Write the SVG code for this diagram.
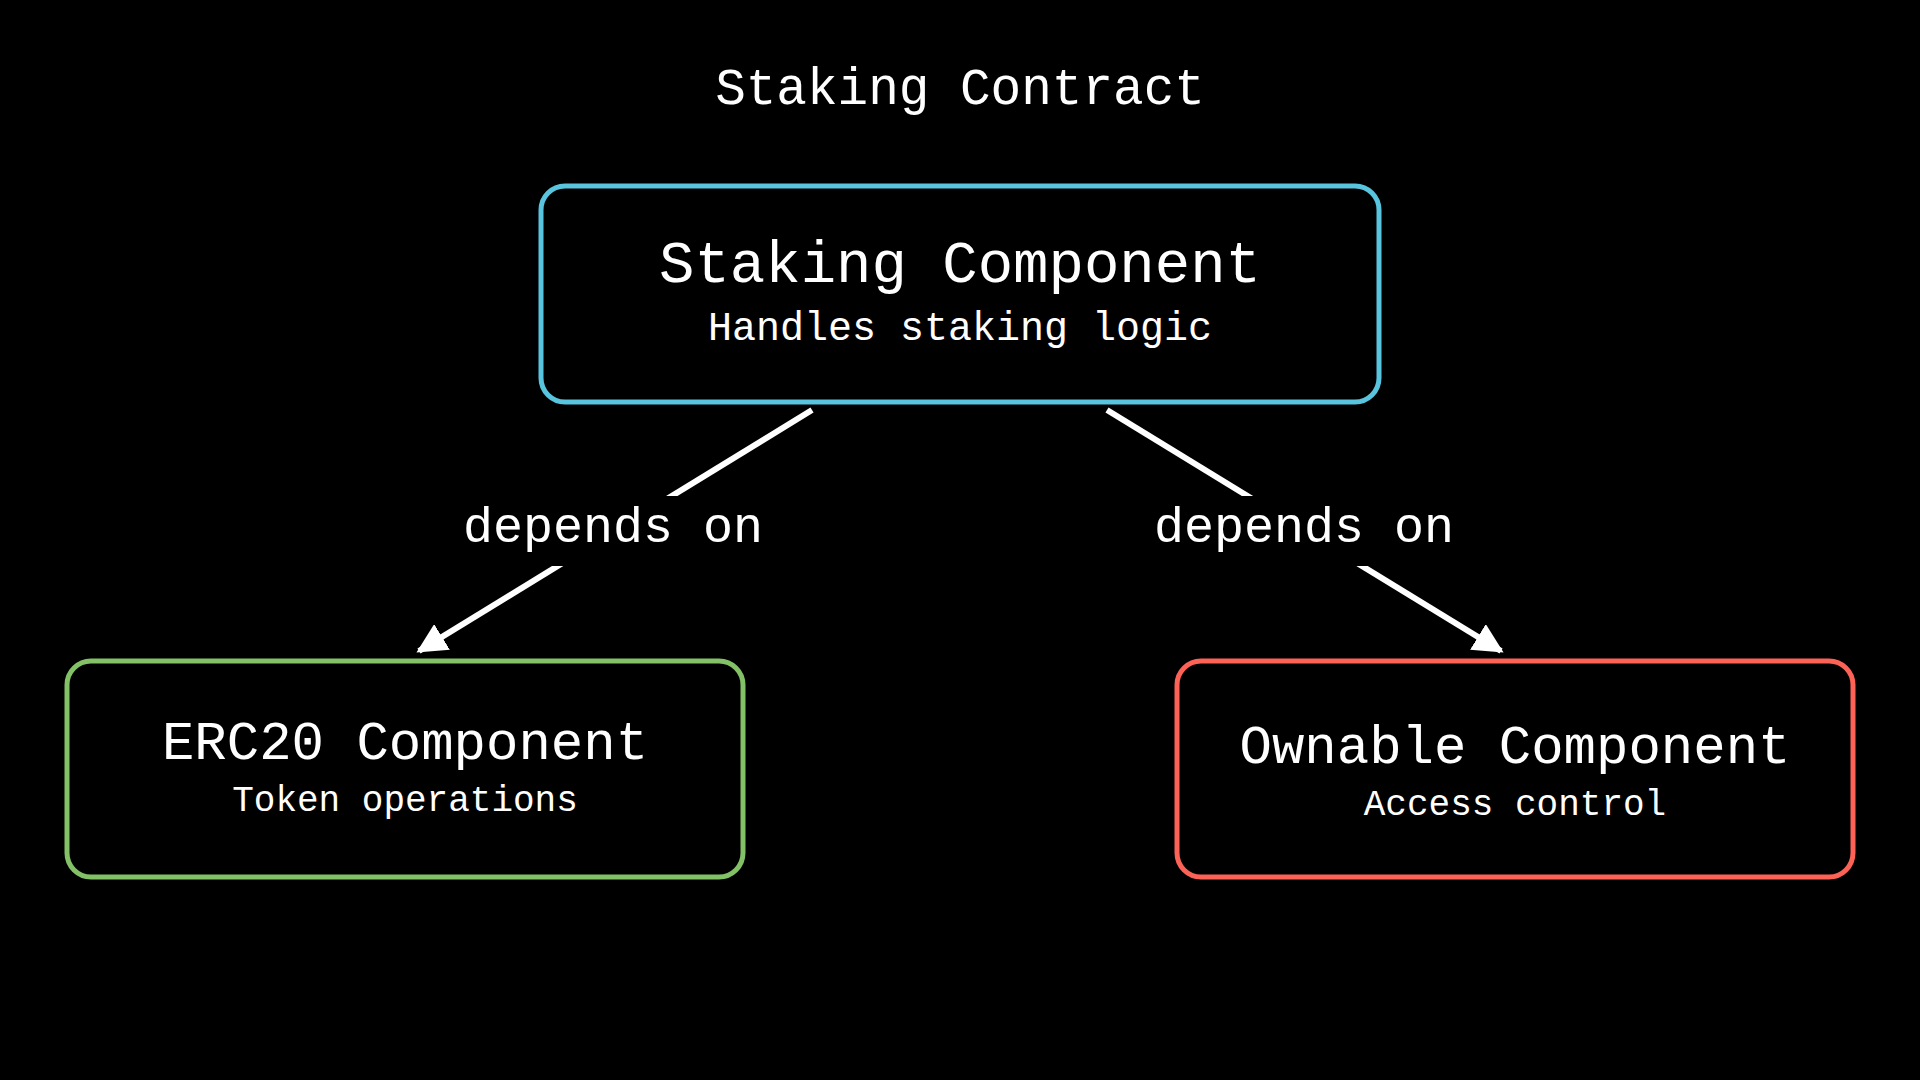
<svg xmlns="http://www.w3.org/2000/svg" width="1920" height="1080" viewBox="0 0 1920 1080">
<defs>
<style>
text{font-family:"Liberation Mono","DejaVu Sans Mono",monospace;fill:#fff;text-anchor:middle}
.box{fill:#000;stroke-width:5}
.edge{stroke:#fff;stroke-width:6;fill:none}
</style>
<marker id="ah" viewBox="0 0 10 10" refX="9" refY="5" markerWidth="5" markerHeight="5" markerUnits="strokeWidth" orient="auto"><path d="M0,0L10,5L0,10z" fill="#fff"/></marker>
</defs>
<rect width="1920" height="1080" fill="#000"/>
<text x="960" y="104" font-size="51">Staking Contract</text>
<g id="connectors">
<line class="edge" x1="812" y1="410" x2="419" y2="651" marker-end="url(#ah)"/>
<line class="edge" x1="1107" y1="410" x2="1501" y2="651" marker-end="url(#ah)"/>
<rect x="455" y="496" width="316" height="70" fill="#000"/>
<rect x="1146" y="496" width="316" height="70" fill="#000"/>
<text x="613" y="542" font-size="50">depends on</text>
<text x="1304" y="542" font-size="50">depends on</text>
</g>
<g id="staking">
<rect class="box" x="541" y="186" width="838" height="216" rx="24" stroke="#58C4DD"/>
<text x="960" y="282" font-size="59">Staking Component</text>
<text x="960" y="340" font-size="40">Handles staking logic</text>
</g>
<g id="erc20">
<rect class="box" x="67" y="661" width="676" height="216" rx="24" stroke="#83C167"/>
<text x="405" y="759" font-size="54">ERC20 Component</text>
<text x="405" y="811" font-size="36">Token operations</text>
</g>
<g id="ownable">
<rect class="box" x="1177" y="661" width="676" height="216" rx="24" stroke="#FC6255"/>
<text x="1515" y="763" font-size="54">Ownable Component</text>
<text x="1515" y="815" font-size="36">Access control</text>
</g>
</svg>
